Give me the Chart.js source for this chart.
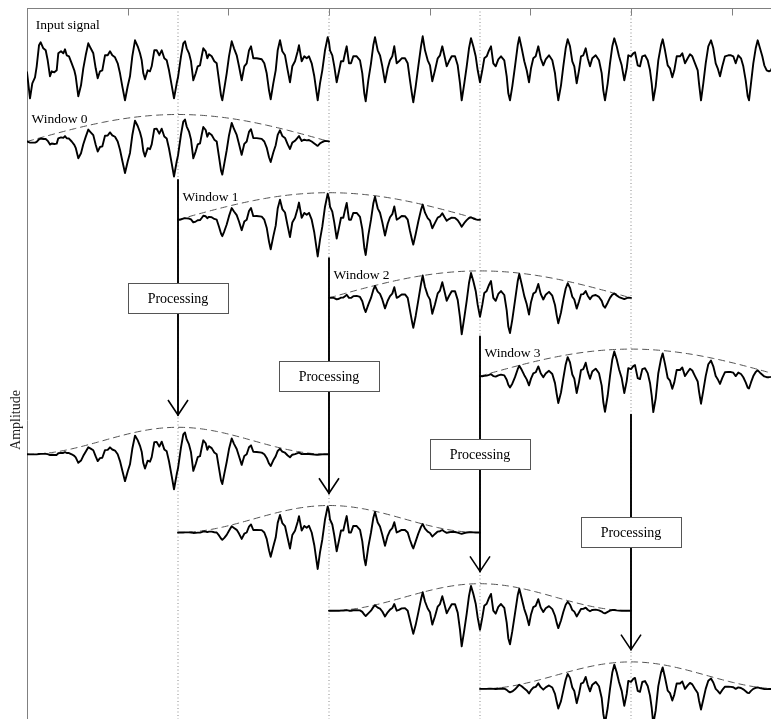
<!DOCTYPE html>
<html>
<head>
<meta charset="utf-8">
<script src="https://cdn.jsdelivr.net/npm/chart.js@4.4.1/dist/chart.umd.min.js"></script>
<style>
  html, body { margin: 0; padding: 0; background: #fff; overflow: hidden; }
  #wrap { width: 812px; height: 840px; }
</style>
</head>
<body>
<div id="wrap"><canvas id="c" width="812" height="840"></canvas></div>
<script>
// Sample positions of the recorded signal (samples)
const sampleTime = [
  0,3,5.3,8,9.7,12,13.7,16.3,18.7,20.7,
  23,24.7,27.3,29.7,31.3,34,36.3,38,39.7,42,
  44.7,47.3,48.7,51.3,54,56.3,58.7,61.3,63.7,66.3,
  68.7,70.7,73,75.3,78,80.7,83,85.3,88,90.7,
  93,95.3,98,100.7,103,105.3,108,110.7,113,114.7,
  116.3,118,120.7,123,124.7,127.3,129.7,132.3,134.7,137.3,
  139.7,142,144.7,147,149.7,151,
  152,154,156.3,158,159.7,162,164,166.3,168.7,170.7,
  173,174.7,176.3,178.7,180.3,182,184.7,187.3,189.7,192,
  194,195.3,197.3,199.7,202,204.7,207,209.7,212,214.7,
  217.3,219.7,222,224,226.3,229.7,234.7,237.3,239.7,242,
  243.7,246.3,248.7,250.7,253,255.3,258,260.7,263,265.3,
  268,270.7,272,274.7,277.3,279.7,282,284.7,287.3,289.7,
  290.7,293,295.3,298,300.7,302,
  303,305.3,307.3,309.7,312,314,316.3,318.7,319.7,322,
  324,326.3,329.7,333,335.3,337.3,338.7,341.3,344,346.3,
  348,350.7,353,355.3,358,360.7,363,365.3,367.3,369.7,
  372,374.7,378,380.7,383,385.3,386.3,388.7,391.3,394,
  395.7,398,400.7,403,405.3,408,410.7,413,415.3,417.3,
  419.7,422,424.7,428,430.7,433,434.7,437.3,439.7,442,
  444,446.3,448.7,450.7,453,
  455.3,457.3,459.7,462,464,466.3,468.7,471.3,474,477.3,
  479.7,481.3,483,485.3,488,490.7,492.3,494.7,497.3,499.7,
  502,504,506.3,508.7,511.3,513.7,516.3,518.7,522,525.3,
  528,529.7,531.3,534,536.3,538.7,540.7,543,545.3,547.3,
  549.7,552,554,556.3,558.7,560.7,563,565.3,568.7,572,
  574.7,576.3,578,580.7,583,585.3,587.3,589.7,592,594.7,
  597.3,599.7,601.3,604,
  606.3,608,610.7,613,615.3,618,620.7,623,624.7,626.3,
  628.7,631.3,634,635.7,638,640.7,643,645.3,647.3,649.7,
  653,655.3,658,660.7,663,665.3,668,670.7,672,674,
  676.3,678.7,681.3,684,686.3,688.7,690.7,693,695.3,698,
  701.3,704,706.3,708.7,711.3,714,716.3,718.7,720.7,722,
  724,726.3,728.7,730.7,733,735.3,737.3,739.7,742,744,
  747,750,753,755
];

// Signal amplitude at each sample position
const amplitude = [
  -9,-35,-20,-14,-3,18,21,15,13,3,
  -13,-8,-9,-7,10,12,10,14,8,7,
  0,-7,-13,-33,-22,-5,8,20,15,10,
  -5,-15,-8,-7,8,8,12,8,6,0,
  -10,-23,-37,-23,-13,7,23,17,10,3,
  -10,-16,-7,-8,-3,13,13,8,13,5,
  3,-7,-22,-35,-20,-14,
  -7,7,20,22,15,10,2,-17,-10,-3,
  -2,7,15,12,5,9,7,2,0,-17,
  -32,-37,-25,-10,7,22,15,8,-3,-17,
  -3,0,13,17,5,5,4,0,-10,-27,
  -36,-20,-7,13,23,12,8,-7,-19,-3,
  2,12,18,2,7,5,7,0,-13,-30,
  -37,-20,-7,13,26,21,
  13,8,-3,-19,-8,2,2,13,17,0,
  0,7,7,3,-10,-30,-38,-17,0,18,
  26,13,8,-3,-19,-5,3,7,17,0,
  2,5,5,0,-17,-33,-39,-23,-3,17,
  27,13,3,-2,-18,-7,5,8,17,8,
  -3,2,7,7,-2,-20,-37,-20,-3,15,
  25,17,7,-7,-19,
  -7,5,7,13,17,0,-3,4,7,3,
  -13,-30,-37,-23,-3,18,26,15,2,-7,
  -19,-5,5,7,17,5,-2,4,8,3,
  -10,-25,-37,-22,-3,15,24,17,2,-3,
  -20,-7,7,8,15,5,-3,5,8,3,
  -10,-27,-37,-20,0,17,25,17,7,-2,
  -17,-5,8,7,
  10,11,-2,-3,7,8,3,-7,-20,-37,
  -23,3,18,24,13,-2,-5,-14,-7,7,
  7,10,0,5,9,7,0,-7,-20,-37,
  -20,0,17,23,15,0,-5,-13,-3,7,
  8,8,7,0,8,5,-3,-17,-33,-37,
  -20,0,15,23,15,7,-2,-7,-8,-7,
  1,6,5,3
];

// Frame tick positions along the time axis
const tickTimes = [100.7, 201.3, 302, 402.7, 503.3, 604, 704.7];

// Text shown on the figure
const windowNames = ['Window 0', 'Window 1', 'Window 2', 'Window 3'];
const inputName = 'Input signal';
const stageName = 'Processing';
const axisName = 'Amplitude';

// Framing parameters
const WIN_LEN = 302;            // analysis window length (samples)
const HOP = WIN_LEN / 2;        // 50 % overlap
const ROW = 78.2;               // vertical offset between stacked traces
const Y_MAX = 55.3, Y_MIN = -768.7, X_MAX = 780;
const PEAK = Math.max(...amplitude);

const rowBase = k => -ROW * k;
// sine (square-root Hann) analysis window; synthesis applies it again
const win = t => Math.sin(Math.PI * t / WIN_LEN);

function segment(start, base, power, useSignal) {
  const pts = [];
  for (let i = 0; i < sampleTime.length; i++) {
    const t = sampleTime[i];
    if (t < start - 1e-6 || t > start + WIN_LEN + 1e-6) continue;
    const w = Math.pow(win(t - start), power);
    pts.push({ x: t, y: base + (useSignal ? amplitude[i] : PEAK) * w });
  }
  return pts;
}

const solid = (data, extra) => Object.assign({
  data, borderColor: '#000', borderWidth: 1.9, pointRadius: 0, fill: false,
  tension: 0, borderJoinStyle: 'round', borderCapStyle: 'round'
}, extra || {});
const dashed = data => ({
  data, borderColor: '#555', borderWidth: 1, pointRadius: 0, fill: false,
  tension: 0, borderDash: [7, 4]
});

const datasets = [];
// input signal
datasets.push(solid(sampleTime.map((t, i) => ({ x: t, y: rowBase(0) + amplitude[i] }))));
// analysis frames and their envelopes
for (let k = 0; k < 4; k++) {
  datasets.push(solid(segment(k * HOP, rowBase(k + 1), 1, true)));
  datasets.push(dashed(segment(k * HOP, rowBase(k + 1), 1, false)));
}
// processed (synthesis windowed) frames
for (let k = 0; k < 4; k++) {
  datasets.push(solid(segment(k * HOP, rowBase(k + 5), 2, true)));
  datasets.push(dashed(segment(k * HOP, rowBase(k + 5), 2, false)));
}
// arrows from each frame to its processed output
const arrows = [];
for (let k = 0; k < 4; k++) {
  const ax = HOP * (k + 1);
  const top = rowBase(k + 1) - 38.5;
  const tip = rowBase(k + 5) + 39.3;
  arrows.push({ x: ax, mid: (top + tip) / 2 });
  datasets.push(solid([{ x: ax, y: top }, { x: ax, y: tip }], { borderCapStyle: 'butt' }));
  datasets.push(solid([{ x: ax - 10, y: tip + 15 }, { x: ax, y: tip }, { x: ax + 10, y: tip + 15 }],
    { borderWidth: 1.6, borderJoinStyle: 'miter', borderCapStyle: 'butt' }));
}
// dotted frame-centre markers (drawn underneath)
for (let k = 0; k < 4; k++) {
  const ax = HOP * (k + 1);
  datasets.push({
    data: [{ x: ax, y: Y_MAX }, { x: ax, y: Y_MIN }], borderColor: '#8a8a8a',
    borderWidth: 1, borderDash: [1, 2.5], pointRadius: 0, fill: false
  });
}

const overlay = {
  id: 'overlay',
  afterDatasetsDraw(chart) {
    const { ctx, chartArea, scales: { x, y } } = chart;
    ctx.save();
    // top frame with inward ticks
    ctx.strokeStyle = '#808080';
    ctx.lineWidth = 1;
    ctx.beginPath();
    const ty = Math.round(chartArea.top) + 0.5;
    ctx.moveTo(chartArea.left, ty);
    ctx.lineTo(chartArea.right, ty);
    tickTimes.forEach(v => {
      const px = Math.round(x.getPixelForValue(v)) + 0.5;
      ctx.moveTo(px, ty);
      ctx.lineTo(px, ty + 7);
    });
    ctx.stroke();

    // trace labels
    ctx.fillStyle = '#000';
    ctx.font = '13.5px "Liberation Serif", "Times New Roman", serif';
    ctx.textAlign = 'left';
    ctx.textBaseline = 'alphabetic';
    ctx.fillText(inputName, x.getPixelForValue(0) + 8.7, y.getPixelForValue(rowBase(0)) - 34);
    windowNames.forEach((name, k) => {
      ctx.fillText(name, x.getPixelForValue(k * HOP) + 4.5, y.getPixelForValue(rowBase(k + 1)) - 18.8);
    });

    // processing boxes on the arrows
    ctx.font = '14px "Liberation Serif", "Times New Roman", serif';
    ctx.textAlign = 'center';
    ctx.textBaseline = 'middle';
    arrows.forEach(a => {
      const cx = Math.round(x.getPixelForValue(a.x));
      const cy = Math.round(y.getPixelForValue(a.mid));
      const bw = 100, bh = 30;
      ctx.fillStyle = '#fff';
      ctx.fillRect(cx - bw / 2, cy - bh / 2, bw, bh);
      ctx.strokeStyle = '#555';
      ctx.lineWidth = 1;
      ctx.strokeRect(cx - bw / 2 + 0.5, cy - bh / 2 + 0.5, bw, bh);
      ctx.fillStyle = '#000';
      ctx.fillText(stageName, cx, cy + 1);
    });
    ctx.restore();
  }
};

new Chart(document.getElementById('c'), {
  type: 'line',
  data: { datasets },
  options: {
    responsive: false,
    animation: false,
    devicePixelRatio: 1,
    layout: { padding: { top: 8, left: 0, right: 5, bottom: 8 } },
    plugins: { legend: { display: false }, tooltip: { enabled: false } },
    scales: {
      x: { type: 'linear', min: 0, max: X_MAX, display: false },
      y: {
        type: 'linear', min: Y_MIN, max: Y_MAX,
        ticks: { display: false },
        grid: { display: false },
        border: { display: true, color: '#808080', width: 1 },
        title: {
          display: true, text: axisName, color: '#222',
          font: { family: '"Liberation Serif", "Times New Roman", serif', size: 14 },
          padding: { top: 7.6, bottom: 0 }
        },
        afterFit(scale) { scale.width = 27; }
      }
    }
  },
  plugins: [overlay]
});
</script>
</body>
</html>
